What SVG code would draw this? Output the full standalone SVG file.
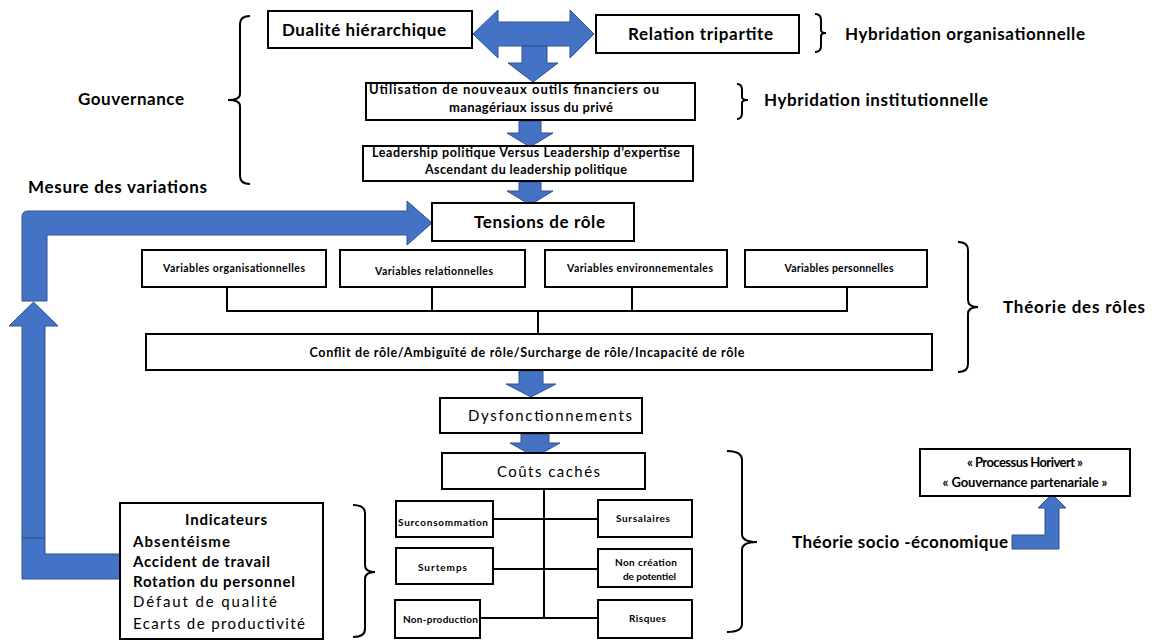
<svg xmlns="http://www.w3.org/2000/svg" width="1154" height="640" viewBox="0 0 1154 640">
<style>
.box{fill:#fff;stroke:#000;stroke-width:2}
.ln{fill:none;stroke:#000;stroke-width:2}
.br{fill:none;stroke:#000;stroke-width:2}
.ar{fill:#4472C4;stroke:#2F528F;stroke-width:1}
.b{font-family:Lato,"Liberation Sans",sans-serif;font-weight:bold;fill:#000}
.r{font-family:Lato,"Liberation Sans",sans-serif;font-weight:normal;fill:#000}
</style>
<rect width="1154" height="640" fill="#fff"/>

<g id="connectors">
  <path class="ar" d="M473,34 L498,10 L498,22 L570,22 L570,10 L594,34 L570,58 L570,46 L498,46 L498,58 Z"/>
  <path class="ar" d="M522,46 L547,46 L547,63 L558,63 L533,82 L508,63 L522,63 Z"/>
  <path class="ar" d="M519,121 L541,121 L541,133 L553,133 L530,147 L507,133 L519,133 Z"/>
  <path class="ar" d="M519,182 L541,182 L541,191 L553,191 L530,205 L507,191 L519,191 Z"/>
  <path class="ar" d="M519,371 L543,371 L543,384 L556,384 L531,397 L506,384 L519,384 Z"/>
  <path class="ar" d="M521,434 L549,434 L549,443 L560,443 L535,457 L510,443 L521,443 Z"/>
  <path class="ar" d="M120,554 L45,554 L45,538 L22,538 L22,579 L120,579 Z"/>
  <path class="ar" d="M22,538 L22,326 L9,326 L33.5,302 L58,326 L45,326 L45,538 Z"/>
  <path class="ar" d="M22,301 L22,217 Q22,211 28,211 L407,211 L407,201 L432,223 L407,245 L407,235 L47,235 L47,301 Z"/>
  <path class="ar" d="M1012,535 L1045,535 L1045,508 L1038,508 L1052,494 L1066,508 L1059,508 L1059,549 L1012,549 Z"/>
  <path class="ln" d="M227,287 V311 M432,287 V311 M632,287 V311 M847,287 V311 M226,311 H848 M538,311 V334"/>
  <path class="ln" d="M544,489 V618 M493,519 H598 M493,569 H598 M480,618 H598"/>
</g>

<g id="braces">
  <path class="br" d="M250,16 Q240,16 240,24 L240,94 Q240,100 228,100 Q240,100 240,106 L240,176 Q240,184 250,184"/>
  <path class="br" d="M815,14 Q821,14 821,20 L821,30 Q821,33 826,33 Q821,33 821,36 L821,46 Q821,52 815,52"/>
  <path class="br" d="M737,84 Q742,84 742,90 L742,97 Q742,100 748,100 Q742,100 742,103 L742,113 Q742,119 737,119"/>
  <path class="br" d="M958,242 Q968,242 968,250 L968,300 Q968,307 978,307 Q968,307 968,314 L968,364 Q968,372 958,372"/>
  <path class="br" d="M727,451 Q742,451 742,460 L742,534 Q742,542 757,542 Q742,542 742,550 L742,624 Q742,632 727,632"/>
  <path class="br" d="M353,505 Q365,505 365,513 L365,565 Q365,572 375,572 Q365,572 365,579 L365,629 Q365,637 353,637"/>
</g>

<g id="labels">
  <text class="b" x="78" y="105" font-size="17" textLength="106">Gouvernance</text>
  <text class="b" x="845" y="40" font-size="17" textLength="240">Hybridation organisationnelle</text>
  <text class="b" x="764" y="106" font-size="17" textLength="224">Hybridation institutionnelle</text>
  <text class="b" x="28" y="193" font-size="17" textLength="179">Mesure des variations</text>
  <text class="b" x="1003" y="313" font-size="17" textLength="142">Théorie des rôles</text>
  <text class="b" x="792" y="548" font-size="17" textLength="216">Théorie socio -économique</text>
</g>

<g id="n-dualite">
  <rect class="box" x="268" y="11" width="204" height="37"/>
  <text class="b" x="282" y="36" font-size="17" textLength="164">Dualité hiérarchique</text>
</g>
<g id="n-relation">
  <rect class="box" x="596" y="15" width="203" height="38"/>
  <text class="b" x="628" y="40" font-size="17" textLength="145">Relation tripartite</text>
</g>
<g id="n-utilisation">
  <rect class="box" x="366" y="83" width="329" height="37"/>
  <text class="b" x="369" y="94" font-size="13" textLength="290">Utilisation de nouveaux outils financiers ou</text>
  <text class="b" x="449" y="112" font-size="13" textLength="164">managériaux issus du privé</text>
</g>
<g id="n-leadership">
  <rect class="box" x="363" y="146" width="330" height="35"/>
  <text class="b" x="372" y="157" font-size="12.5" textLength="308">Leadership politique Versus Leadership d’expertise</text>
  <text class="b" x="425" y="174" font-size="12.5" textLength="202">Ascendant du leadership politique</text>
</g>
<g id="n-tensions">
  <rect class="box" x="432" y="203" width="202" height="38"/>
  <text class="b" x="474" y="228" font-size="17" textLength="131">Tensions de rôle</text>
</g>
<g id="n-var-org">
  <rect class="box" x="142" y="250" width="184" height="37"/>
  <text class="b" x="234" y="272" font-size="10.5" text-anchor="middle" textLength="142">Variables organisationnelles</text>
</g>
<g id="n-var-rel">
  <rect class="box" x="340" y="250" width="185" height="37"/>
  <text class="b" x="434" y="275" font-size="10.5" text-anchor="middle" textLength="118">Variables relationnelles</text>
</g>
<g id="n-var-env">
  <rect class="box" x="545" y="250" width="182" height="37"/>
  <text class="b" x="640" y="272" font-size="10.5" text-anchor="middle" textLength="146">Variables environnementales</text>
</g>
<g id="n-var-pers">
  <rect class="box" x="745" y="250" width="182" height="37"/>
  <text class="b" x="839" y="272" font-size="10.5" text-anchor="middle" textLength="109">Variables personnelles</text>
</g>
<g id="n-conflit">
  <rect class="box" x="146" y="334" width="786" height="36"/>
  <text class="b" x="527" y="357" font-size="12.5" text-anchor="middle" textLength="435">Conflit de rôle/Ambiguïté de rôle/Surcharge de rôle/Incapacité de rôle</text>
</g>
<g id="n-dysf">
  <rect class="box" x="440" y="398" width="202" height="35"/>
  <text class="r" x="468" y="421" font-size="15" textLength="164">Dysfonctionnements</text>
</g>
<g id="n-couts">
  <rect class="box" x="442" y="453" width="203" height="36"/>
  <text class="r" x="497" y="477" font-size="15" textLength="103">Coûts cachés</text>
</g>
<g id="n-surconso">
  <rect class="box" x="396" y="501" width="97" height="36"/>
  <text class="b" x="398" y="526" font-size="10" textLength="90">Surconsommation</text>
</g>
<g id="n-surtemps">
  <rect class="box" x="396" y="548" width="97" height="36"/>
  <text class="b" x="418" y="571" font-size="10" textLength="49">Surtemps</text>
</g>
<g id="n-nonprod">
  <rect class="box" x="395" y="600" width="85" height="38"/>
  <text class="b" x="403" y="623" font-size="10" textLength="75">Non-production</text>
</g>
<g id="n-sursal">
  <rect class="box" x="598" y="500" width="94" height="37"/>
  <text class="b" x="616" y="522" font-size="10" textLength="54">Sursalaires</text>
</g>
<g id="n-noncrea">
  <rect class="box" x="598" y="549" width="94" height="38"/>
  <text class="b" x="615" y="566" font-size="10" textLength="62">Non création</text>
  <text class="b" x="623" y="580" font-size="10" textLength="53">de potentiel</text>
</g>
<g id="n-risques">
  <rect class="box" x="598" y="600" width="94" height="38"/>
  <text class="b" x="629" y="622" font-size="10" textLength="37">Risques</text>
</g>
<g id="n-indicateurs">
  <rect class="box" x="120" y="503" width="203" height="136"/>
  <text class="b" x="185" y="525" font-size="15" textLength="82">Indicateurs</text>
  <text class="b" x="133" y="547" font-size="15" textLength="97">Absentéisme</text>
  <text class="b" x="133" y="567" font-size="15" textLength="137">Accident de travail</text>
  <text class="b" x="133" y="587" font-size="15" textLength="162">Rotation du personnel</text>
  <text class="r" x="133" y="607" font-size="15" textLength="144">Défaut de qualité</text>
  <text class="r" x="133" y="629" font-size="15" textLength="172">Ecarts de productivité</text>
</g>
<g id="n-processus">
  <rect class="box" x="920" y="449" width="210" height="47"/>
  <text class="b" x="1025" y="467" font-size="13" text-anchor="middle" textLength="116">« Processus Horivert »</text>
  <text class="b" x="1025" y="487" font-size="13" text-anchor="middle" textLength="165">« Gouvernance partenariale  »</text>
</g>
</svg>
